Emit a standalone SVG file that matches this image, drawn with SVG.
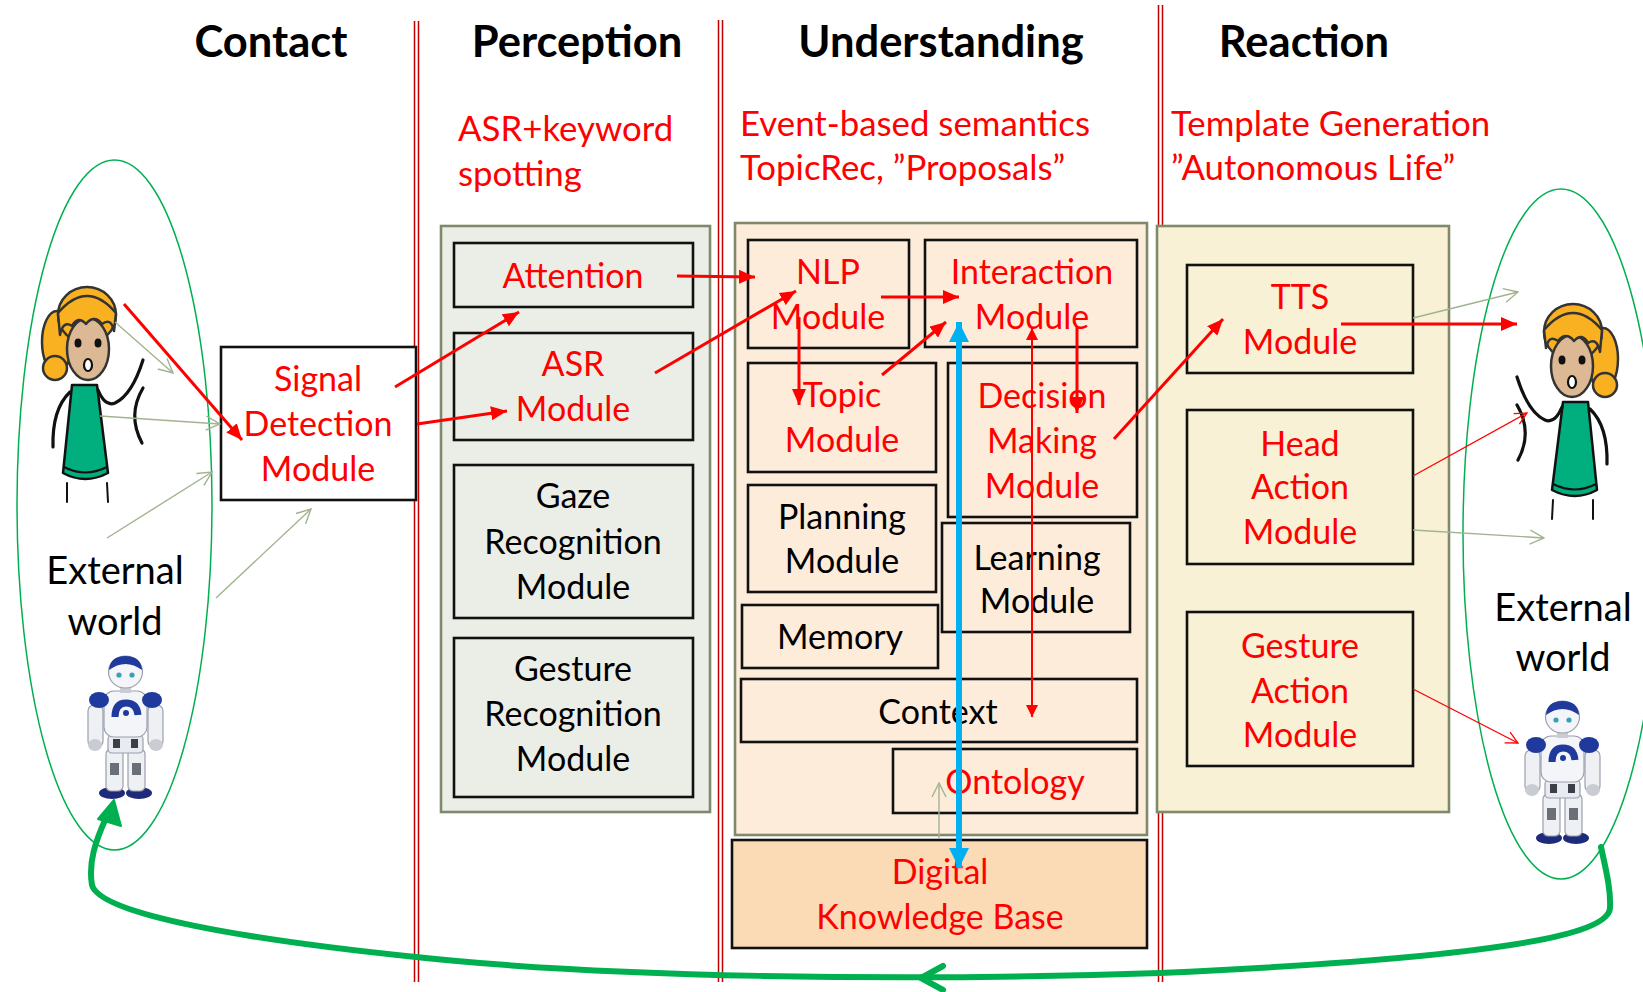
<svg xmlns="http://www.w3.org/2000/svg" width="1643" height="992" viewBox="0 0 1643 992">
  <style>
    text { font-family: Lato, "Open Sans", "Liberation Sans", sans-serif; }
    .hdr { font-size: 43.5px; font-weight: bold; fill: #000; text-anchor: middle; }
    .sub { font-size: 34.8px; fill: #ff0000; }
    .lbl { font-size: 34px; text-anchor: middle; }
    .red { fill: #ff0000; }
    .blk { fill: #000; }
    .world { font-size: 38px; fill: #000; text-anchor: middle; }
    .box { fill: none; stroke: #111; stroke-width: 2.6; }
    .grp { stroke: #7f8a6b; stroke-width: 2.6; }
    .div { stroke: #c00000; stroke-width: 1.5; }
    .halo { fill: none; stroke: #00b050; stroke-width: 1.5; }
    .rt { stroke: #ff0000; stroke-width: 3; fill: none; marker-end: url(#ah); }
    .rm { stroke: #ff0000; stroke-width: 2; fill: none; marker-end: url(#ahs); marker-start: url(#ahs); }
    .rthin { stroke: #ff0000; stroke-width: 1.3; fill: none; marker-end: url(#openRed); }
    .gy { stroke: #a2b38f; stroke-width: 1.4; fill: none; marker-end: url(#openGray); }
    .blue { stroke: #00b0f0; stroke-width: 6; fill: none; marker-end: url(#ahb); marker-start: url(#ahb); }
    .loop { stroke: #00b050; stroke-width: 6; fill: none; stroke-linecap: round; stroke-linejoin: round; }
    .ink { stroke: #111; fill: none; stroke-linecap: round; }
  </style>
  <defs>
    <marker id="ah" markerUnits="userSpaceOnUse" markerWidth="16" markerHeight="14" refX="16" refY="7" orient="auto">
      <path d="M0,0 L16,7 L0,14 Z" fill="#ff0000"/>
    </marker>
    <marker id="ahs" markerUnits="userSpaceOnUse" markerWidth="12" markerHeight="12" refX="12" refY="6" orient="auto-start-reverse">
      <path d="M0,0 L12,6 L0,12 Z" fill="#ff0000"/>
    </marker>
    <marker id="ahb" markerUnits="userSpaceOnUse" markerWidth="20" markerHeight="20" refX="20" refY="10" orient="auto-start-reverse">
      <path d="M0,0 L20,10 L0,20 Z" fill="#00b0f0"/>
    </marker>
    <marker id="openRed" markerUnits="userSpaceOnUse" markerWidth="14" markerHeight="14" refX="13" refY="7" orient="auto">
      <path d="M1,1 L13,7 L1,13" fill="none" stroke="#ff0000" stroke-width="1.3"/>
    </marker>
    <marker id="openGray" markerUnits="userSpaceOnUse" markerWidth="16" markerHeight="16" refX="15" refY="8" orient="auto">
      <path d="M1,1 L15,8 L1,15" fill="none" stroke="#a2b38f" stroke-width="1.4"/>
    </marker>

    <!-- cartoon person, face centred on the origin -->
    <g id="person">
      <ellipse cx="-30" cy="-5" rx="15" ry="31" fill="#f9b122" stroke="#333" stroke-width="2.5"/>
      <circle cx="-32" cy="21" r="12" fill="#f9b122" stroke="#333" stroke-width="2.5"/>
      <ellipse cx="0" cy="-32" rx="29" ry="28" fill="#f9b122" stroke="#333" stroke-width="2.5"/>
      <ellipse cx="1" cy="2" rx="21" ry="31" fill="#dcb894" stroke="#333" stroke-width="2.5"/>
      <path d="M-27,-12 Q-24,-27 -15,-21 Q-9,-32 -1,-23 Q7,-33 15,-23 Q24,-30 27,-16 L29,-34 Q0,-68 -29,-34 Z" fill="#f9b122" stroke="#333" stroke-width="2.5" stroke-linejoin="round"/>
      <ellipse cx="-9" cy="-4" rx="3.5" ry="4.5" fill="#111"/>
      <ellipse cx="11" cy="-4" rx="3.5" ry="4.5" fill="#111"/>
      <ellipse cx="1" cy="18" rx="4" ry="6" fill="#fff" stroke="#111" stroke-width="2.2"/>
      <path d="M-15,38 L10,38 L21,126 Q-2,138 -24,126 Z" fill="#00ae7e" stroke="#111" stroke-width="2.5" stroke-linejoin="round"/>
      <path d="M-23,120 Q-2,131 20,120" class="ink" stroke-width="2"/>
      <path d="M-17,45 Q-35,62 -34,100" class="ink" stroke-width="3.2"/>
      <path d="M11,43 Q18,60 28,56 Q45,48 56,13" class="ink" stroke-width="3.2"/>
      <path d="M56,41 Q40,68 55,96" class="ink" stroke-width="3.2"/>
      <path d="M-20,136 L-20,155 M20,136 L21,155" class="ink" stroke-width="2"/>
    </g>

    <!-- small humanoid robot, top-left corner on the origin -->
    <g id="robot">
      <ellipse cx="30" cy="138" rx="13" ry="6" fill="#1e2a7a"/>
      <ellipse cx="57" cy="138" rx="13" ry="6" fill="#1e2a7a"/>
      <rect x="24" y="94" width="17" height="42" rx="5" fill="#eef0f4" stroke="#9aa0ad" stroke-width="1.2"/>
      <rect x="46" y="94" width="17" height="42" rx="5" fill="#eef0f4" stroke="#9aa0ad" stroke-width="1.2"/>
      <rect x="28" y="108" width="9" height="12" fill="#6b6f78"/>
      <rect x="50" y="108" width="9" height="12" fill="#6b6f78"/>
      <rect x="26" y="80" width="35" height="18" rx="4" fill="#e9ebf0" stroke="#9aa0ad" stroke-width="1.2"/>
      <rect x="31" y="84" width="7" height="9" fill="#3b3f48"/>
      <rect x="49" y="84" width="7" height="9" fill="#3b3f48"/>
      <rect x="6" y="50" width="15" height="42" rx="6" fill="#eef0f4" stroke="#9aa0ad" stroke-width="1.2"/>
      <rect x="66" y="50" width="15" height="42" rx="6" fill="#eef0f4" stroke="#9aa0ad" stroke-width="1.2"/>
      <ellipse cx="13" cy="90" rx="7" ry="6" fill="#c9ccd3"/>
      <ellipse cx="74" cy="90" rx="7" ry="6" fill="#c9ccd3"/>
      <rect x="22" y="36" width="43" height="46" rx="10" fill="#f4f5f8" stroke="#9aa0ad" stroke-width="1.2"/>
      <ellipse cx="17" cy="45" rx="10" ry="8" fill="#1f3a9c"/>
      <ellipse cx="70" cy="45" rx="10" ry="8" fill="#1f3a9c"/>
      <path d="M33,62 Q33,48 44,48 Q55,48 56,60" fill="none" stroke="#1f3a9c" stroke-width="7"/>
      <circle cx="44" cy="58" r="3" fill="#1f3a9c"/>
      <rect x="38" y="30" width="11" height="8" fill="#c9ccd3"/>
      <ellipse cx="43.5" cy="17" rx="17" ry="16" fill="#f4f5f8" stroke="#9aa0ad" stroke-width="1.2"/>
      <path d="M27,15 Q28,1 43.5,1 Q59,1 60,15 Q52,9 43.5,9 Q35,9 27,15 Z" fill="#1f3a9c"/>
      <circle cx="37" cy="20" r="2.6" fill="#39a0b8"/>
      <circle cx="50" cy="20" r="2.6" fill="#39a0b8"/>
    </g>
  </defs>

  <rect width="1643" height="992" fill="#fff"/>

  <!-- stage dividers -->
  <g id="dividers">
    <path class="div" d="M414.5,21 V982 M418.5,21 V982"/>
    <path class="div" d="M718.5,20 V982 M722.5,20 V982"/>
    <path class="div" d="M1158.5,5 V982 M1162.5,5 V982"/>
  </g>

  <!-- stage titles -->
  <g id="titles">
    <text class="hdr" x="271" y="57">Contact</text>
    <text class="hdr" x="577" y="57">Perception</text>
    <text class="hdr" x="941" y="57">Understanding</text>
    <text class="hdr" x="1304" y="57">Reaction</text>
    <text class="sub" x="458" y="141">ASR+keyword</text>
    <text class="sub" x="458" y="186">spotting</text>
    <text class="sub" x="740" y="136">Event-based semantics</text>
    <text class="sub" x="740" y="180">TopicRec, ”Proposals”</text>
    <text class="sub" x="1171" y="136">Template Generation</text>
    <text class="sub" x="1171" y="180">”Autonomous Life”</text>
  </g>

  <!-- external world, left -->
  <g id="world-left">
    <ellipse class="halo" cx="114.5" cy="505" rx="97.5" ry="345"/>
    <use href="#person" transform="translate(87,347)"/>
    <text class="world" x="115" y="584">External</text>
    <text class="world" x="115" y="635">world</text>
    <use href="#robot" transform="translate(82,655)"/>
  </g>

  <!-- external world, right -->
  <g id="world-right">
    <ellipse class="halo" cx="1561" cy="534" rx="98" ry="345"/>
    <use href="#person" transform="translate(1573,364) scale(-1,1)"/>
    <text class="world" x="1563" y="621">External</text>
    <text class="world" x="1563" y="671">world</text>
    <use href="#robot" transform="translate(1519,700)"/>
  </g>

  <!-- contact -->
  <g id="signal-detection">
    <rect x="221" y="347" width="195" height="153" fill="#fff" stroke="#111" stroke-width="2.6"/>
    <text class="lbl red" x="318" y="391">Signal</text>
    <text class="lbl red" x="318" y="436">Detection</text>
    <text class="lbl red" x="318" y="481">Module</text>
  </g>

  <!-- perception -->
  <g id="perception">
    <rect class="grp" x="441" y="226" width="269" height="586" fill="#ebeee7"/>
  </g>
  <g id="attention">
    <rect class="box" x="454" y="243" width="239" height="64"/>
    <text class="lbl red" x="573" y="288">Attention</text>
  </g>
  <g id="asr">
    <rect class="box" x="454" y="333" width="239" height="107"/>
    <text class="lbl red" x="573" y="376">ASR</text>
    <text class="lbl red" x="573" y="421">Module</text>
  </g>
  <g id="gaze">
    <rect class="box" x="454" y="465" width="239" height="153"/>
    <text class="lbl blk" x="573" y="508">Gaze</text>
    <text class="lbl blk" x="573" y="554">Recognition</text>
    <text class="lbl blk" x="573" y="599">Module</text>
  </g>
  <g id="gesture-recognition">
    <rect class="box" x="454" y="638" width="239" height="159"/>
    <text class="lbl blk" x="573" y="681">Gesture</text>
    <text class="lbl blk" x="573" y="726">Recognition</text>
    <text class="lbl blk" x="573" y="771">Module</text>
  </g>

  <!-- understanding -->
  <g id="understanding">
    <rect class="grp" x="735" y="223" width="412" height="612" fill="#fdecda"/>
  </g>
  <g id="nlp">
    <rect class="box" x="748" y="240" width="161" height="108"/>
    <text class="lbl red" x="828" y="284">NLP</text>
    <text class="lbl red" x="828" y="329">Module</text>
  </g>
  <g id="interaction">
    <rect class="box" x="925" y="240" width="212" height="107"/>
    <text class="lbl red" x="1032" y="284">Interaction</text>
    <text class="lbl red" x="1032" y="329">Module</text>
  </g>
  <g id="topic">
    <rect class="box" x="748" y="363" width="188" height="109"/>
    <text class="lbl red" x="842" y="407">Topic</text>
    <text class="lbl red" x="842" y="452">Module</text>
  </g>
  <g id="decision">
    <rect class="box" x="948" y="363" width="189" height="154"/>
    <text class="lbl red" x="1042" y="408">Decision</text>
    <text class="lbl red" x="1042" y="453">Making</text>
    <text class="lbl red" x="1042" y="498">Module</text>
  </g>
  <g id="planning">
    <rect class="box" x="748" y="485" width="188" height="107"/>
    <text class="lbl blk" x="842" y="529">Planning</text>
    <text class="lbl blk" x="842" y="573">Module</text>
  </g>
  <g id="learning">
    <rect class="box" x="942" y="523" width="188" height="109"/>
    <text class="lbl blk" x="1037" y="570">Learning</text>
    <text class="lbl blk" x="1037" y="613">Module</text>
  </g>
  <g id="memory">
    <rect class="box" x="742" y="605" width="196" height="63"/>
    <text class="lbl blk" x="840" y="649">Memory</text>
  </g>
  <g id="context">
    <rect class="box" x="741" y="679" width="396" height="63"/>
    <text class="lbl blk" x="938" y="724">Context</text>
  </g>
  <g id="ontology">
    <rect class="box" x="893" y="749" width="244" height="64"/>
    <text class="lbl red" x="1015" y="794">Ontology</text>
  </g>
  <g id="knowledge-base">
    <rect x="732" y="840" width="415" height="108" fill="#fadbb5" stroke="#111" stroke-width="2.6"/>
    <text class="lbl red" x="940" y="884">Digital</text>
    <text class="lbl red" x="940" y="929">Knowledge Base</text>
  </g>

  <!-- reaction -->
  <g id="reaction">
    <rect class="grp" x="1157" y="226" width="292" height="586" fill="#f8f1d5"/>
  </g>
  <g id="tts">
    <rect class="box" x="1187" y="265" width="226" height="108"/>
    <text class="lbl red" x="1300" y="309">TTS</text>
    <text class="lbl red" x="1300" y="354">Module</text>
  </g>
  <g id="head-action">
    <rect class="box" x="1187" y="410" width="226" height="154"/>
    <text class="lbl red" x="1300" y="456">Head</text>
    <text class="lbl red" x="1300" y="499">Action</text>
    <text class="lbl red" x="1300" y="544">Module</text>
  </g>
  <g id="gesture-action">
    <rect class="box" x="1187" y="612" width="226" height="154"/>
    <text class="lbl red" x="1300" y="658">Gesture</text>
    <text class="lbl red" x="1300" y="703">Action</text>
    <text class="lbl red" x="1300" y="747">Module</text>
  </g>

  <!-- connectors -->
  <g id="connectors">
    <!-- sensing from the outside world -->
    <path class="gy" d="M115,322 L173,373"/>
    <path class="gy" d="M100,416 L220,424"/>
    <path class="gy" d="M107,538 L212,472"/>
    <path class="gy" d="M216,598 L311,509"/>
    <path class="gy" d="M939,839 L939,783"/>
    <path class="gy" d="M1413,318 L1518,292"/>
    <path class="gy" d="M1413,530 L1544,538"/>

    <!-- processing flow -->
    <path class="rt" d="M124,304 L242,440"/>
    <path class="rt" d="M395,387 L519,312"/>
    <path class="rt" d="M417,424 L507,411"/>
    <path class="rt" d="M677,276 L755,277"/>
    <path class="rt" d="M655,373 L796,291"/>
    <path class="rt" d="M881,297 L959,297"/>
    <path class="rt" d="M799,317 L799,405"/>
    <path class="rt" d="M882,375 L946,322"/>
    <path class="rt" d="M1077,326 L1077,413"/>
    <path class="rm" d="M1032,328 L1032,717"/>
    <path class="rt" d="M1114,439 L1223,319"/>
    <path class="rt" d="M1341,324 L1517,324"/>
    <path class="rthin" d="M1413,476 L1527,413"/>
    <path class="rthin" d="M1413,689 L1518,743"/>

    <!-- knowledge base link -->
    <path class="blue" d="M959,322 L959,868"/>

    <!-- feedback loop back to the robot -->
    <path class="loop" d="M1601,847 C1606,870 1611,890 1610,908 C1608,940 1450,960 1160,973 C900,982 600,977 416,957 C250,940 100,915 92,885 C88,862 96,840 106,818"/>
    <path d="M114,800 L121,826 L98,819 Z" fill="#00b050" stroke="#00b050" stroke-width="2" stroke-linejoin="round"/>
    <path class="loop" d="M943,966 L921,978 L943,990"/>
  </g>
</svg>
